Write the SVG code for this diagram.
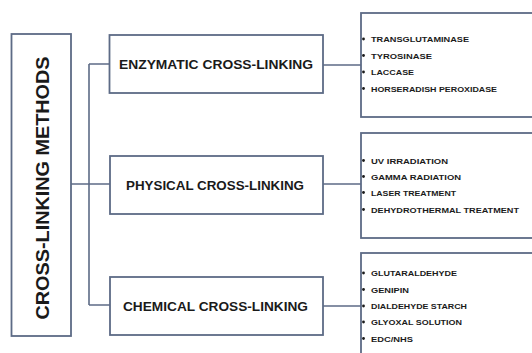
<svg xmlns="http://www.w3.org/2000/svg" width="532" height="353" viewBox="0 0 532 353">
<style>
.box{fill:#ffffff;stroke:#5d6b86;stroke-width:1.8}
.ln{fill:none;stroke:#5d6b86;stroke-width:1.6}
.t{font-family:"Liberation Sans",Arial,sans-serif;font-weight:bold;fill:#1a1a1a}
.m{font-size:13px;text-anchor:middle}
.i{font-size:8px}
.b{fill:#1a1a1a}
</style>
<rect width="532" height="353" fill="#ffffff"/>
<g id="connectors">
<path class="ln" d="M71 184 H89 M89 64 V305 M89 64 H109 M89 184 H110 M89 305 H110"/>
<path class="ln" d="M323 65 H361 M323 184 H361 M323 306 H361"/>
</g>
<g id="main">
<rect class="box" x="11.5" y="34" width="59.5" height="302"/>
<text class="t" transform="translate(48.5,188) rotate(-90)" text-anchor="middle" font-size="18" textLength="263" lengthAdjust="spacingAndGlyphs">CROSS-LINKING METHODS</text>
</g>
<g id="enzymatic">
<rect class="box" x="109.5" y="35" width="213.5" height="58"/>
<text class="t m" x="216" y="69" textLength="194" lengthAdjust="spacingAndGlyphs">ENZYMATIC CROSS-LINKING</text>
</g>
<g id="physical">
<rect class="box" x="110" y="156" width="213" height="58"/>
<text class="t m" x="215" y="189.5" textLength="178" lengthAdjust="spacingAndGlyphs">PHYSICAL CROSS-LINKING</text>
</g>
<g id="chemical">
<rect class="box" x="110" y="277" width="213" height="58"/>
<text class="t m" x="215.5" y="310.5" textLength="185" lengthAdjust="spacingAndGlyphs">CHEMICAL CROSS-LINKING</text>
</g>
<g id="enzymatic-list">
<rect class="box" x="361" y="13" width="180" height="104"/>
<circle class="b" cx="363.5" cy="39" r="1.4"/>
<circle class="b" cx="363.5" cy="55.5" r="1.4"/>
<circle class="b" cx="363.5" cy="72" r="1.4"/>
<circle class="b" cx="363.5" cy="88.5" r="1.4"/>
<text class="t i" x="371" y="42" textLength="98" lengthAdjust="spacingAndGlyphs">TRANSGLUTAMINASE</text>
<text class="t i" x="371" y="58.5" textLength="61" lengthAdjust="spacingAndGlyphs">TYROSINASE</text>
<text class="t i" x="371" y="75" textLength="43" lengthAdjust="spacingAndGlyphs">LACCASE</text>
<text class="t i" x="371" y="91.5" textLength="126" lengthAdjust="spacingAndGlyphs">HORSERADISH PEROXIDASE</text>
</g>
<g id="physical-list">
<rect class="box" x="361" y="133" width="180" height="105"/>
<circle class="b" cx="363.5" cy="160.5" r="1.4"/>
<circle class="b" cx="363.5" cy="176.5" r="1.4"/>
<circle class="b" cx="363.5" cy="192.5" r="1.4"/>
<circle class="b" cx="363.5" cy="209.5" r="1.4"/>
<text class="t i" x="371" y="163.5" textLength="77" lengthAdjust="spacingAndGlyphs">UV IRRADIATION</text>
<text class="t i" x="371" y="179.5" textLength="90" lengthAdjust="spacingAndGlyphs">GAMMA RADIATION</text>
<text class="t i" x="371" y="195.5" textLength="85" lengthAdjust="spacingAndGlyphs">LASER TREATMENT</text>
<text class="t i" x="371" y="212.5" textLength="148" lengthAdjust="spacingAndGlyphs">DEHYDROTHERMAL TREATMENT</text>
</g>
<g id="chemical-list">
<rect class="box" x="361" y="253" width="180" height="110"/>
<circle class="b" cx="363.5" cy="273" r="1.4"/>
<circle class="b" cx="363.5" cy="289.5" r="1.4"/>
<circle class="b" cx="363.5" cy="306" r="1.4"/>
<circle class="b" cx="363.5" cy="322" r="1.4"/>
<circle class="b" cx="363.5" cy="338.5" r="1.4"/>
<text class="t i" x="371" y="276" textLength="86" lengthAdjust="spacingAndGlyphs">GLUTARALDEHYDE</text>
<text class="t i" x="371" y="292.5" textLength="38" lengthAdjust="spacingAndGlyphs">GENIPIN</text>
<text class="t i" x="371" y="309" textLength="96" lengthAdjust="spacingAndGlyphs">DIALDEHYDE STARCH</text>
<text class="t i" x="371" y="325" textLength="91" lengthAdjust="spacingAndGlyphs">GLYOXAL SOLUTION</text>
<text class="t i" x="371" y="341.5" textLength="42" lengthAdjust="spacingAndGlyphs">EDC/NHS</text>
</g>
</svg>
